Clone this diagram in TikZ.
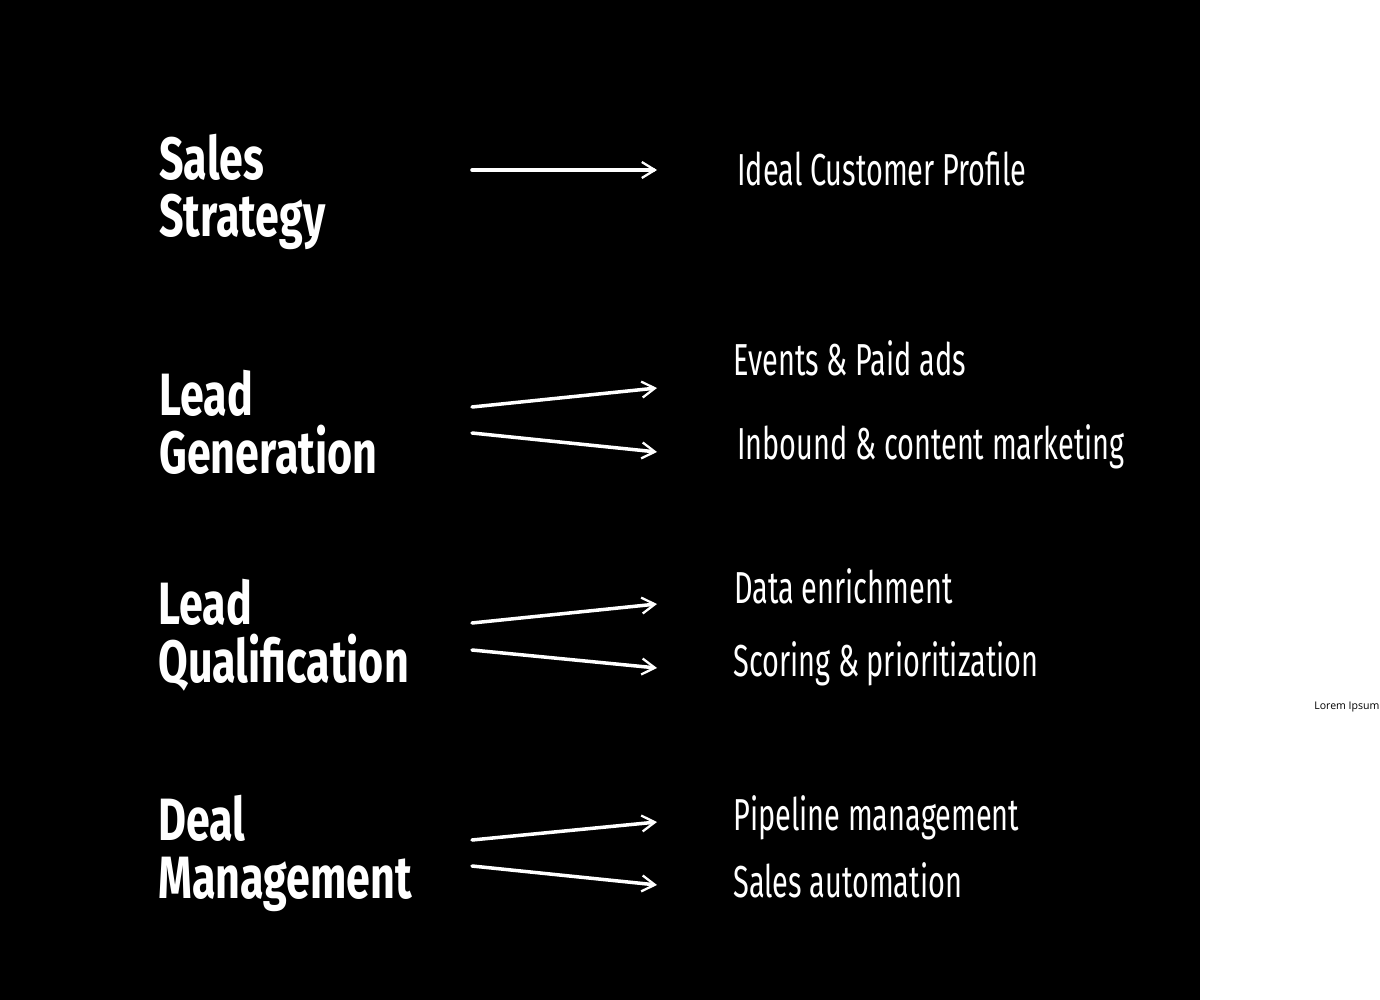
\documentclass[tikz,border=0pt]{standalone}
\usepackage{fontspec}
\setmainfont{Fira Sans}
\newfontfamily\headfont[FakeStretch=0.72]{Fira Sans}
\newfontfamily\itemfont[FakeStretch=0.645]{Fira Sans}
\newfontfamily\notefont{Open Sans}
\usetikzlibrary{arrows.meta}
\tikzset{
  stage/.style  ={anchor=base west, inner sep=0pt, text=white,
                  font=\headfont\bfseries\fontsize{34}{33}\selectfont,
                  align=left},
  item/.style   ={anchor=base west, inner sep=0pt, text=white,
                  font=\itemfont\fontsize{25.5}{30}\selectfont},
  chalk/.style  ={-{Straight Barb[length=2.6mm, width=3.2mm, line width=1.3pt]},
                  line width=2pt, white, line cap=round},
  note/.style   ={anchor=base west, inner sep=0pt,
                  font=\notefont\fontsize{6}{7}\selectfont},
}
\begin{document}
\begin{tikzpicture}[x=0.02cm, y=-0.02cm]
  \useasboundingbox (0,0) rectangle (1380,1000);
  \fill[black] (0,0) rectangle (1200,1000);
  % stages (base = second line)
  \node[stage] (strat) at (159,237) {Sales\\Strategy};
  \node[stage] (gen)   at (159,473) {Lead\\Generation};
  \node[stage] (qual)  at (158,682) {Lead\\Qualification};
  \node[stage] (deal)  at (158,898) {Deal\\Management};
  % outcomes
  \node[item] (icp)   at (737,186) {Ideal Customer Profile};
  \node[item] (evt)   at (733,376) {Events \& Paid ads};
  \node[item] (inb)   at (737,459) {Inbound \& content marketing};
  \node[item] (enr)   at (734,603) {Data enrichment};
  \node[item] (score) at (733,676) {Scoring \& prioritization};
  \node[item] (pipe)  at (733,830) {Pipeline management};
  \node[item] (auto)  at (733,897) {Sales automation};
  % arrow ends
  \coordinate (s0) at (472,170);  \coordinate (s1) at (657,170);
  \coordinate (g0) at (472,407);  \coordinate (g1) at (657,388);
  \coordinate (g2) at (472,433);  \coordinate (g3) at (657,452);
  \coordinate (q0) at (472,623);  \coordinate (q1) at (657,604);
  \coordinate (q2) at (472,650);  \coordinate (q3) at (657,668);
  \coordinate (d0) at (472,840);  \coordinate (d1) at (657,822);
  \coordinate (d2) at (472,866);  \coordinate (d3) at (657,885);
  \draw[chalk] (s0) -- (s1);
  \draw[chalk] (g0) -- (g1);
  \draw[chalk] (g2) -- (g3);
  \draw[chalk] (q0) -- (q1);
  \draw[chalk] (q2) -- (q3);
  \draw[chalk] (d0) -- (d1);
  \draw[chalk] (d2) -- (d3);
  \node[note] (lorem) at (1314,709) {Lorem Ipsum};
\end{tikzpicture}
\end{document}
